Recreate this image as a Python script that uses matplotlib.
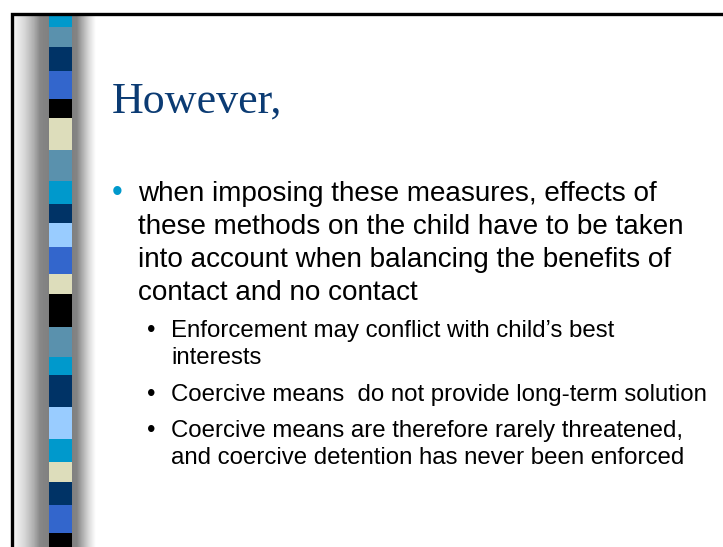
import numpy as np
import matplotlib
matplotlib.use("Agg")
import matplotlib.pyplot as plt

# slide content
title = "However,"
main_lines = [
    "when imposing these measures, effects of",
    "these methods on the child have to be taken",
    "into account when balancing the benefits of",
    "contact and no contact",
]
sub_points = [
    ["Enforcement may conflict with child\u2019s best", "interests"],
    ["Coercive means  do not provide long-term solution"],
    ["Coercive means are therefore rarely threatened,", "and coercive detention has never been enforced"],
]

# left decorative strip: block edges (px from top) and colours
strip_edges = [15, 27, 47, 71, 99, 118, 150, 181, 204, 223, 247, 274,
               294, 327, 357, 375, 407, 439, 462, 482, 505, 533, 547]
strip_names = ["cyan", "steel", "navy", "royal", "black", "beige", "steel", "cyan",
               "navy", "light", "royal", "beige", "black", "steel", "cyan", "navy",
               "light", "cyan", "beige", "navy", "royal", "black"]
palette = {
    "cyan": "#0099CC", "steel": "#5A91AD", "navy": "#003366", "royal": "#3366CC",
    "black": "#000000", "beige": "#DDDDBB", "light": "#99CCFF",
}

W, H = 723, 547
fig = plt.figure(figsize=(W / 100, H / 100), dpi=100)
ax = fig.add_axes([0, 0, 1, 1])
ax.set_xlim(0, W)
ax.set_ylim(H, 0)
ax.axis("off")

# grey shading either side of the strip
cols = np.arange(13, 96) + 0.5
shade = np.interp(cols, [13, 24, 34, 40, 49, 72, 77, 84, 90, 96],
                  [0.97, 0.85, 0.68, 0.53, 0.50, 0.50, 0.52, 0.72, 0.88, 1.0])
ax.imshow(shade[None, :], cmap="gray", vmin=0, vmax=1, aspect="auto",
          extent=[13, 96, H, 15], interpolation="nearest", zorder=1)

# coloured blocks
tops = np.array(strip_edges[:-1])
heights = np.diff(strip_edges)
ax.bar(np.full(len(heights), 60.5), heights, bottom=tops, width=23,
       color=[palette[n] for n in strip_names], linewidth=0, zorder=2)

# slide border (top and left)
ax.plot([11.5, 11.5, W + 2], [H + 2, 13.5, 13.5], color="black", lw=2.4,
        solid_joinstyle="miter", zorder=3)

sans = "Liberation Sans"
ax.text(112, 113, title, fontsize=31.7, family="Liberation Serif",
        color="#0B3B73", va="baseline", ha="left")

# first level bullet
y0 = 201
step1 = 33
ax.text(111.5, y0, "\u2022", fontsize=22, family=sans, color="#0099CC",
        va="baseline", ha="left")
for i, line in enumerate(main_lines):
    ax.text(138, y0 + i * step1, line, fontsize=20.1, family=sans,
            color="black", va="baseline", ha="left")

# second level bullets
y = 337
step2 = 27.5
gap = 36
for lines in sub_points:
    ax.text(147, y, "\u2022", fontsize=17.3, family=sans, color="black",
            va="baseline", ha="left")
    for j, line in enumerate(lines):
        ax.text(171, y + j * step2, line, fontsize=17.3, family=sans,
                color="black", va="baseline", ha="left")
    y += (len(lines) - 1) * step2 + gap

fig.savefig("out.png", dpi=100, facecolor="white")
